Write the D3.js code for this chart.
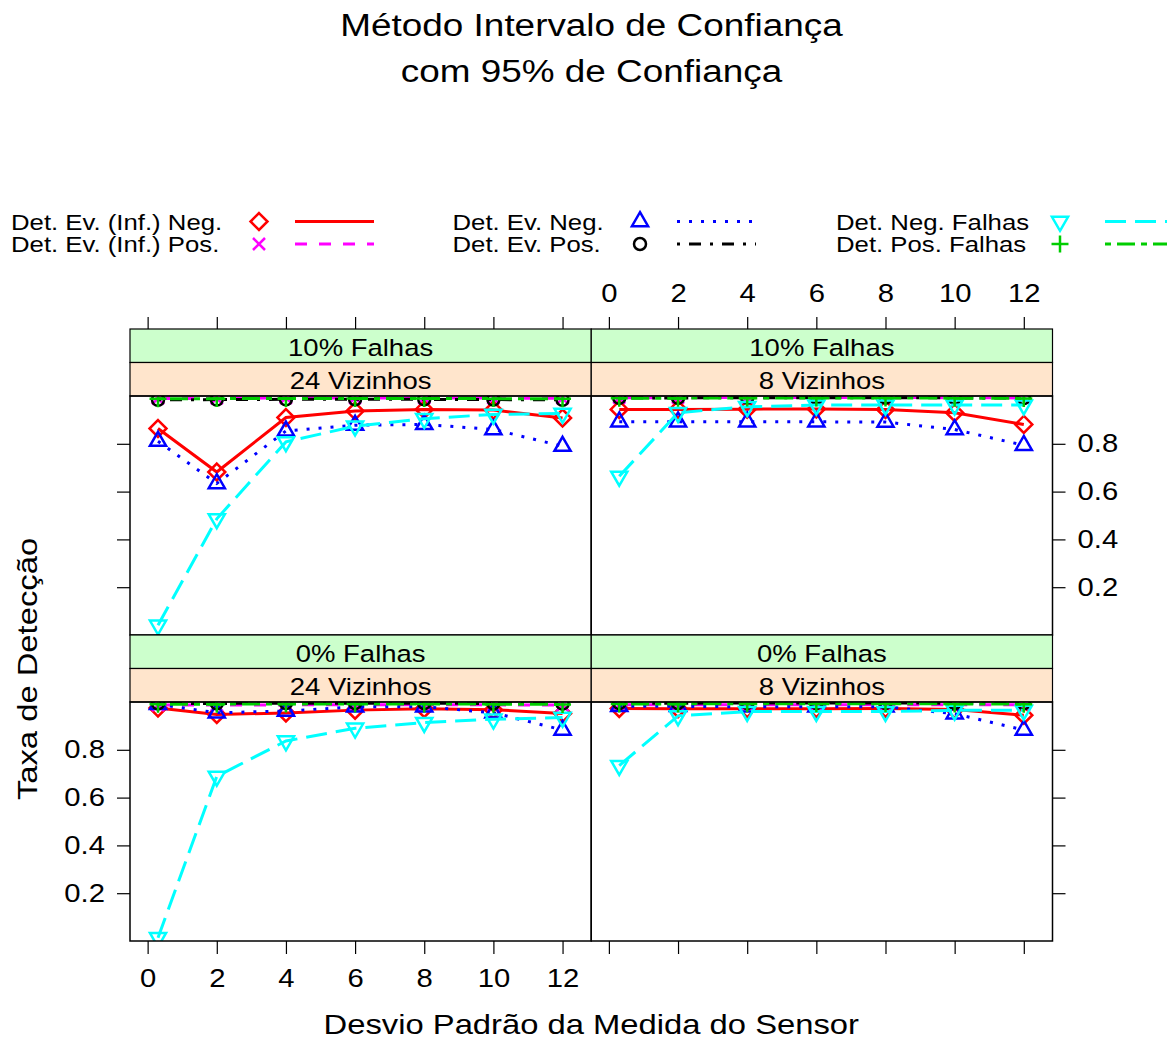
<!DOCTYPE html>
<html>
<head>
<meta charset="utf-8">
<script src="https://cdn.jsdelivr.net/npm/d3@7"></script>
<style>
body { margin: 0; background: #fff; }
text { font-family: "Liberation Sans", Arial, Helvetica, sans-serif; fill: #000; }
</style>
</head>
<body>
<script>
var width = 1167, height = 1041;

// desvio padrão (x) onde foram medidos os pontos
var desvios = [0.3, 2, 4, 6, 8, 10, 12];
var xTicks = [0, 2, 4, 6, 8, 10, 12];
var yTicks = [0.2, 0.4, 0.6, 0.8];

// paineis: sup. esq., sup. dir., inf. esq., inf. dir.
var panelFalhas = ["10% Falhas", "10% Falhas", "0% Falhas", "0% Falhas"];
var panelVizinhos = ["24 Vizinhos", "8 Vizinhos", "24 Vizinhos", "8 Vizinhos"];

var seriesNames = ["Det. Ev. (Inf.) Neg.", "Det. Ev. (Inf.) Pos.", "Det. Ev. Neg.",
                   "Det. Ev. Pos.", "Det. Neg. Falhas", "Det. Pos. Falhas"];

// uma linha por painel (mesma ordem dos paineis)
var evInfNeg = [
  [0.864, 0.682, 0.910, 0.937, 0.944, 0.941, 0.908],
  [0.944, 0.944, 0.945, 0.946, 0.944, 0.930, 0.881],
  [0.975, 0.948, 0.954, 0.966, 0.972, 0.968, 0.952],
  [0.973, 0.972, 0.972, 0.972, 0.973, 0.969, 0.945]
];
var evInfPos = [
  [0.990, 0.990, 0.992, 0.992, 0.992, 0.991, 0.990],
  [0.993, 0.993, 0.994, 0.994, 0.994, 0.993, 0.992],
  [0.987, 0.987, 0.988, 0.988, 0.988, 0.988, 0.987],
  [0.988, 0.988, 0.989, 0.989, 0.989, 0.989, 0.988]
];
var evNeg = [
  [0.811, 0.634, 0.854, 0.878, 0.881, 0.860, 0.790],
  [0.892, 0.892, 0.892, 0.892, 0.891, 0.860, 0.794],
  [0.990, 0.955, 0.962, 0.980, 0.980, 0.955, 0.883],
  [0.982, 0.982, 0.980, 0.980, 0.980, 0.951, 0.883]
];
var evPos = [
  [0.984, 0.985, 0.986, 0.986, 0.986, 0.985, 0.984],
  [0.992, 0.992, 0.993, 0.993, 0.993, 0.992, 0.991],
  [0.994, 0.994, 0.995, 0.995, 0.995, 0.994, 0.993],
  [0.995, 0.995, 0.996, 0.996, 0.996, 0.995, 0.994]
];
var negFalhas = [
  [0.041, 0.486, 0.808, 0.874, 0.905, 0.923, 0.927],
  [0.664, 0.930, 0.955, 0.962, 0.962, 0.962, 0.962],
  [0.014, 0.689, 0.837, 0.890, 0.914, 0.928, 0.935],
  [0.734, 0.942, 0.960, 0.960, 0.960, 0.965, 0.965]
];
var posFalhas = [
  [0.988, 0.989, 0.990, 0.990, 0.990, 0.989, 0.988],
  [0.991, 0.991, 0.992, 0.992, 0.992, 0.991, 0.990],
  [0.991, 0.991, 0.992, 0.992, 0.992, 0.991, 0.990],
  [0.992, 0.992, 0.993, 0.993, 0.993, 0.992, 0.991]
];
var allSeries = [evInfNeg, evInfPos, evNeg, evPos, negFalhas, posFalhas];

var seriesColors = ["#ff0000", "#ff00ff", "#0000ff", "#000000", "#00ffff", "#00cd00"];
var seriesDash = ["none", "12,12", "3,9", "3,9,12,9", "21,9", "6,6,18,6"];
var seriesSymbol = ["diamond", "cross", "triangle", "circle", "triangleDown", "plus"];

var textStretch = 1.17;
var lwd = 3;
var R = 6;

// layout
var left = 130, right = 1052.5;
var panelW = (right - left) / 2;
var rowTop = [329, 635];
var stripH = 33.5, dataH = 239;

var svg = d3.select("body")
.append("svg")
.attr("width", width)
.attr("height", height)
.attr("id", "svg");

var defs = svg.append("defs");

function addText(g, x, y, str, size, anchor, stretch, rotate) {
    var tr = "translate(" + x + "," + y + ")";
    if (rotate) tr += " rotate(" + rotate + ")";
    tr += " scale(" + (stretch || textStretch) + ",1)";
    return g.append("text")
        .attr("transform", tr)
        .attr("text-anchor", anchor || "middle")
        .style("font-size", size + "px")
        .text(str);
}

function symbolPath(kind) {
    var d = "";
    if (kind == "diamond") {
        var a = Math.SQRT2 * R;
        d = "M0," + (-a) + "L" + a + ",0L0," + a + "L" + (-a) + ",0Z";
    } else if (kind == "triangle" || kind == "triangleDown") {
        var r = 1.555 * R, xc = 1.347 * R, yc = 0.778 * R;
        var s = kind == "triangle" ? 1 : -1;
        d = "M0," + (-r * s) + "L" + xc + "," + (yc * s) + "L" + (-xc) + "," + (yc * s) + "Z";
    } else if (kind == "cross") {
        d = "M" + (-R) + "," + (-R) + "L" + R + "," + R + "M" + (-R) + "," + R + "L" + R + "," + (-R);
    } else if (kind == "plus") {
        var p = Math.SQRT2 * R;
        d = "M" + (-p) + ",0L" + p + ",0M0," + (-p) + "L0," + p;
    }
    return d;
}

function drawSymbol(g, kind, color, cx, cy) {
    if (kind == "circle") {
        g.append("circle").attr("cx", cx).attr("cy", cy).attr("r", R)
            .attr("fill", "none").attr("stroke", color).attr("stroke-width", 2.5);
    } else {
        g.append("path").attr("d", symbolPath(kind))
            .attr("transform", "translate(" + cx + "," + cy + ")")
            .attr("fill", "none").attr("stroke", color).attr("stroke-width", 2.5);
    }
}

// titulo
addText(svg, width / 2 + 8, 36, "Método Intervalo de Confiança", 31, "middle", 1.19);
addText(svg, width / 2 + 8, 81.5, "com 95% de Confiança", 31, "middle", 1.19);

// legenda (3 colunas x 2 linhas)
var legTextX = [11, 452.5, 836];
var legSymX = [259, 640, 1060];
var legLineX = [295, 677, 1105];
var legRowY = [221.5, 244];
seriesNames.forEach(function(name, i) {
    var col = Math.floor(i / 2), row = i % 2;
    var cy = legRowY[row];
    addText(svg, legTextX[col], cy + 8, name, 22, "start");
    drawSymbol(svg, seriesSymbol[i], seriesColors[i], legSymX[col], cy);
    svg.append("line")
        .attr("x1", legLineX[col]).attr("x2", legLineX[col] + 79)
        .attr("y1", cy).attr("y2", cy)
        .attr("stroke", seriesColors[i])
        .attr("stroke-width", lwd)
        .attr("stroke-dasharray", seriesDash[i]);
});

var x = d3.scaleLinear().domain([-0.51, 12.83]).range([0, panelW]);
var y = d3.scaleLinear().domain([0, 1]).range([dataH, 0]);

var line = d3.line()
    .x(function(d) { return x(d[0]); })
    .y(function(d) { return y(d[1]); });

function stretchTicks(axisG) {
    axisG.selectAll(".tick text").each(function() {
        var t = d3.select(this);
        var tx = +t.attr("x") || 0, ty = +t.attr("y") || 0;
        t.attr("x", null).attr("y", null)
         .attr("transform", "translate(" + tx + "," + ty + ") scale(" + textStretch + ",1)");
    });
    axisG.select(".domain").remove();
    axisG.selectAll(".tick line").attr("stroke-width", 1.2);
    axisG.selectAll(".tick text").style("font-size", "25px").attr("fill", "#000");
}

panelFalhas.forEach(function(falhas, p) {
    var col = p % 2, row = Math.floor(p / 2);
    var px = left + col * panelW;
    var g = svg.append("g").attr("transform", "translate(" + px + "," + rowTop[row] + ")");

    // strips
    g.append("rect").attr("x", 0).attr("y", 0).attr("width", panelW).attr("height", stripH)
        .attr("fill", "#ccffcc").attr("stroke", "#000").attr("stroke-width", 1.2);
    g.append("rect").attr("x", 0).attr("y", stripH).attr("width", panelW).attr("height", stripH)
        .attr("fill", "#ffe5cc").attr("stroke", "#000").attr("stroke-width", 1.2);
    addText(g, panelW / 2, 27, falhas, 23.5, "middle");
    addText(g, panelW / 2, stripH + 26.8, panelVizinhos[p], 23.5, "middle");

    var data = g.append("g").attr("transform", "translate(0," + (2 * stripH) + ")");

    defs.append("clipPath").attr("id", "clip" + p)
        .append("rect").attr("width", panelW).attr("height", dataH);

    var plot = data.append("g").attr("clip-path", "url(#clip" + p + ")");
    allSeries.forEach(function(series, s) {
        var pts = desvios.map(function(d, k) { return [d, series[p][k]]; });
        plot.append("path")
            .datum(pts)
            .attr("d", line)
            .attr("fill", "none")
            .attr("stroke", seriesColors[s])
            .attr("stroke-width", lwd)
            .attr("stroke-dasharray", seriesDash[s]);
        pts.forEach(function(pt) {
            drawSymbol(plot, seriesSymbol[s], seriesColors[s], x(pt[0]), y(pt[1]));
        });
    });

    data.append("rect").attr("width", panelW).attr("height", dataH)
        .attr("fill", "none").attr("stroke", "#000").attr("stroke-width", 1.5);

    // eixos alternados como no lattice
    if (row == 0) {
        var top = g.append("g").call(d3.axisTop(x).tickValues(xTicks).tickSize(12).tickPadding(15)
            .tickFormat(col == 1 ? d3.format("d") : ""));
        stretchTicks(top);
        var yAx = col == 0 ? d3.axisLeft(y) : d3.axisRight(y);
        var ya = data.append("g").attr("transform", "translate(" + (col == 0 ? 0 : panelW) + ",0)")
            .call(yAx.tickValues(yTicks).tickSize(13).tickPadding(12)
            .tickFormat(col == 1 ? d3.format(".1f") : ""));
        stretchTicks(ya);
    } else {
        var bot = data.append("g").attr("transform", "translate(0," + dataH + ")")
            .call(d3.axisBottom(x).tickValues(xTicks).tickSize(13).tickPadding(15)
            .tickFormat(col == 0 ? d3.format("d") : ""));
        stretchTicks(bot);
        var yAx2 = col == 0 ? d3.axisLeft(y) : d3.axisRight(y);
        var yb = data.append("g").attr("transform", "translate(" + (col == 0 ? 0 : panelW) + ",0)")
            .call(yAx2.tickValues(yTicks).tickSize(13).tickPadding(12)
            .tickFormat(col == 0 ? d3.format(".1f") : ""));
        stretchTicks(yb);
    }
});

// titulos dos eixos
addText(svg, (left + right) / 2, 1034, "Desvio Padrão da Medida do Sensor", 28, "middle");
addText(svg, 37, 669, "Taxa de Detecção", 28, "middle", textStretch, -90);
</script>
</body>
</html>
